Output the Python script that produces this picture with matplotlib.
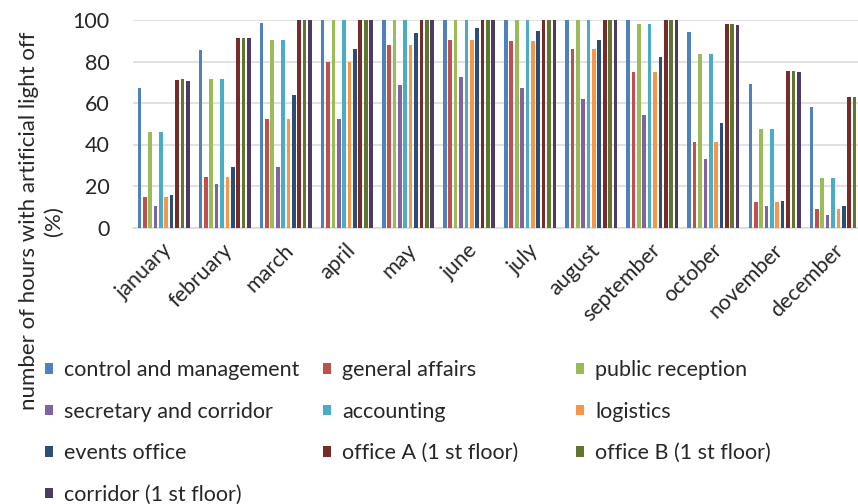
import matplotlib
matplotlib.use("Agg")
import matplotlib.pyplot as plt
import matplotlib.transforms as mtransforms
import numpy as np

months = ["january", "february", "march", "april", "may", "june",
          "july", "august", "september", "october", "november", "december"]

control_and_management = [67, 85.5, 98.5, 100, 100, 100, 100, 100, 100, 94, 69, 58]
general_affairs = [14.5, 24.5, 52.5, 80, 88, 90.5, 90, 86, 75, 41, 12.5, 9]
public_reception = [46, 71.5, 90.5, 100, 100, 100, 100, 100, 98, 83.5, 47.5, 24]
secretary_and_corridor = [10.5, 21, 29, 52.5, 68.5, 72.5, 67, 62, 54, 33, 10.5, 6]
accounting = [46, 71.5, 90.5, 100, 100, 100, 100, 100, 98, 83.5, 47.5, 24]
logistics = [14.5, 24.5, 52.5, 80, 88, 90.5, 90, 86, 75, 41, 12.5, 9]
events_office = [15.5, 29, 64, 86, 93.5, 96, 94.5, 90.5, 82, 50.5, 13, 10.5]
office_a = [71, 91.5, 100, 100, 100, 100, 100, 100, 100, 98, 75.5, 63]
office_b = [71.5, 91.5, 100, 100, 100, 100, 100, 100, 100, 98, 75.5, 63]
corridor_1st = [70.5, 91.5, 100, 100, 100, 100, 100, 100, 100, 97.5, 75, 62.5]

series_names = ["control and management", "general affairs", "public reception",
                "secretary and corridor", "accounting", "logistics",
                "events office", "office A (1 st floor)", "office B (1 st floor)",
                "corridor (1 st floor)"]
series_values = [control_and_management, general_affairs, public_reception,
                 secretary_and_corridor, accounting, logistics, events_office,
                 office_a, office_b, corridor_1st]
series_colors = ["#4F81BD", "#C0504D", "#9BBB59", "#8064A2", "#4BACC6",
                 "#F79646", "#2C4D75", "#772C2A", "#5F7530", "#4D3B62"]

y_ticks = [0, 20, 40, 60, 80, 100]

FONT = "Lato"
TXT = "#262626"
FS = 15.5
plt.rcParams["font.family"] = [FONT, "DejaVu Sans"]

W, H = 858, 504
fig = plt.figure(figsize=(W / 100, H / 100), dpi=100)

# axes in pixel geometry; the last group runs past the right edge
ax_left, ax_bottom_px, ax_top_px, pitch = 133, 227.5, 20, 61.1
ax = fig.add_axes([ax_left / W, (H - ax_bottom_px) / H,
                   12 * pitch / W, (ax_bottom_px - ax_top_px) / H])

x = np.arange(len(months))
n = len(series_values)
slot = 1 / 11.36
bar_w = slot * 0.68
handles = []
for i, (vals, col) in enumerate(zip(series_values, series_colors)):
    b = ax.bar(x + (i - (n - 1) / 2) * slot, vals, width=bar_w, color=col,
               zorder=3, linewidth=0)
    handles.append(b)

ax.set_xlim(-0.5, len(months) - 0.5)
ax.set_ylim(0, 100)
ax.set_yticks(y_ticks)
ax.set_yticklabels([str(v) for v in y_ticks], fontsize=FS, color=TXT)
ax.yaxis.grid(True, color="#D9D9D9", linewidth=1.1, zorder=0)
for s in ["top", "right", "left"]:
    ax.spines[s].set_visible(False)
ax.spines["bottom"].set_color("#D9D9D9")
ax.spines["bottom"].set_linewidth(1.1)
ax.tick_params(axis="both", length=0)
ax.tick_params(axis="y", pad=17)

ax.set_xticks(x)
ax.set_xticklabels(months, fontsize=FS, color=TXT, rotation=45,
                   ha="right", va="center", rotation_mode="anchor")
ax.tick_params(axis="x", pad=14)
shift = mtransforms.ScaledTranslation(5 / 100, 0, fig.dpi_scale_trans)
for lab in ax.get_xticklabels():
    lab.set_transform(lab.get_transform() + shift)

fig.text(41 / W, 1 - 221 / H,
         "number of hours with artificial light off\n(%)",
         rotation=90, ha="center", va="center", multialignment="center",
         fontsize=16, color=TXT, linespacing=1.3)

# legend laid out row by row in three fixed columns
col_x = [45, 323, 576]
for c in range(3):
    idx = list(range(c, n, 3))
    leg = fig.legend([handles[k] for k in idx], [series_names[k] for k in idx],
                     loc="upper left", bbox_to_anchor=(col_x[c] / W, 1 - 360 / H),
                     frameon=False, fontsize=FS, handlelength=0.38,
                     handleheight=0.38, handletextpad=0.5, labelspacing=1.0,
                     borderpad=0, borderaxespad=0, labelcolor=TXT)

fig.savefig("out.png", dpi=100)
